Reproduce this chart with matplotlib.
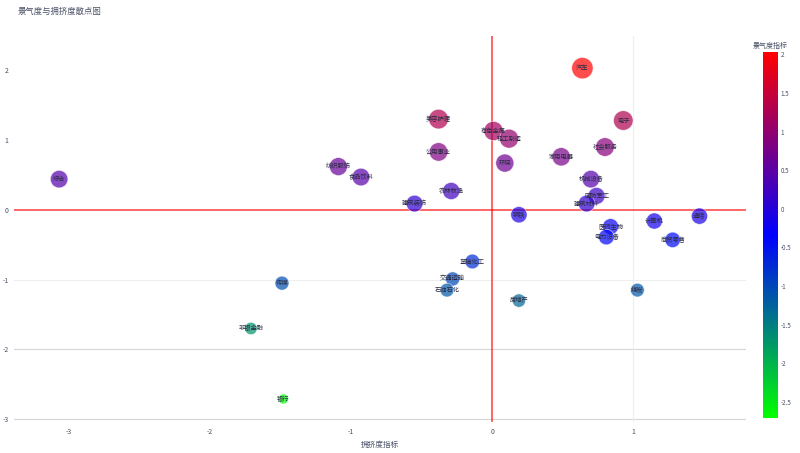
import numpy as np
import matplotlib
matplotlib.use('Agg')
import matplotlib.pyplot as plt
from matplotlib.colors import LinearSegmentedColormap, Normalize
from matplotlib.ticker import FuncFormatter

plt.rcParams['font.family'] = ['Noto Sans CJK SC', 'DejaVu Sans']
plt.rcParams['axes.unicode_minus'] = False

# --- data --- #
industries = ['汽车', '电子', '美容护理', '有色金属', '轻工制造', '社会服务', '公用事业',
              '家用电器', '环保', '纺织服饰', '食品饮料', '综合', '机械设备', '农林牧渔',
              '国防军工', '建筑材料', '建筑装饰', '钢铁', '通信', '计算机', '医药生物',
              '电力设备', '商贸零售', '基础化工', '交通运输', '石油石化', '房地产', '煤炭',
              '传媒', '非银金融', '银行']
crowding = [0.64, 0.93, -0.38, 0.01, 0.12, 0.80, -0.38,
            0.49, 0.09, -1.09, -0.93, -3.07, 0.70, -0.29,
            0.74, 0.67, -0.55, 0.19, 1.47, 1.15, 0.84,
            0.81, 1.28, -0.14, -0.28, -0.32, 0.19, 1.03,
            -1.49, -1.71, -1.48]
prosperity = [2.03, 1.28, 1.30, 1.13, 1.02, 0.90, 0.83,
              0.76, 0.67, 0.62, 0.47, 0.44, 0.44, 0.27,
              0.20, 0.09, 0.09, -0.07, -0.09, -0.16, -0.24,
              -0.39, -0.43, -0.74, -0.99, -1.15, -1.30, -1.15,
              -1.05, -1.70, -2.71]

# --- style --- #
text_color = '#4a5066'
cmap = LinearSegmentedColormap.from_list('prosp', ['#00ff00', '#0000ff', '#ff0000'])

x = np.array(crowding)
y = np.array(prosperity)
norm = Normalize(vmin=y.min(), vmax=y.max())
radius_px = 5 + (y - y.min()) * 1.2
sizes = (2 * radius_px * 0.72) ** 2

fig = plt.figure(figsize=(8, 4.53), dpi=100, facecolor='white')
ax = fig.add_axes([0.0175, 0.0684, 0.915, 0.852])

# grid lines that are visible in the original
for gy in [-1, -2, -3]:
    ax.axhline(gy, color='#eeeeee' if gy == -1 else '#d6d6d6', lw=0.8, zorder=0)
ax.axvline(1, color='#eeeeee', lw=0.8, zorder=0)

ax.axhline(0, color='red', lw=1.2, alpha=0.7, zorder=1)
ax.axvline(0, color='red', lw=1.2, alpha=0.7, zorder=1)

sc = ax.scatter(x, y, s=sizes, c=y, cmap=cmap, norm=norm, alpha=0.7,
                edgecolors='white', linewidths=0.5, zorder=2)
for name, xi, yi in zip(industries, x, y):
    ax.text(xi, yi, name, fontsize=4.5, color='#2a2a44', ha='center', va='center', zorder=3)

fmt = FuncFormatter(lambda v, pos: '%g' % v)
ax.set_xlim(-3.39, 1.80)
ax.set_ylim(-3.04, 2.49)
ax.set_xticks([-3, -2, -1, 0, 1])
ax.set_yticks([-3, -2, -1, 0, 1, 2])
ax.xaxis.set_major_formatter(fmt)
ax.yaxis.set_major_formatter(fmt)
ax.tick_params(length=0, labelsize=5, colors=text_color, pad=4)
for spine in ax.spines.values():
    spine.set_visible(False)
ax.set_xlabel('拥挤度指标', fontsize=5.5, color=text_color, labelpad=4)

fig.text(0.0225, 0.975, '景气度与拥挤度散点图', fontsize=6, color=text_color, ha='left', va='center')

cax = fig.add_axes([0.954, 0.077, 0.0185, 0.808])
cb = fig.colorbar(sc, cax=cax)
cb.solids.set_alpha(1)
cb.outline.set_visible(False)
cb.set_ticks([-2.5, -2, -1.5, -1, -0.5, 0, 0.5, 1, 1.5, 2])
cb.ax.yaxis.set_major_formatter(fmt)
cb.ax.tick_params(length=0, labelsize=4.5, colors=text_color, pad=2)
cax.set_title('景气度指标', fontsize=5, color=text_color, pad=3)

fig.savefig('out.png', dpi=100, facecolor='white')
